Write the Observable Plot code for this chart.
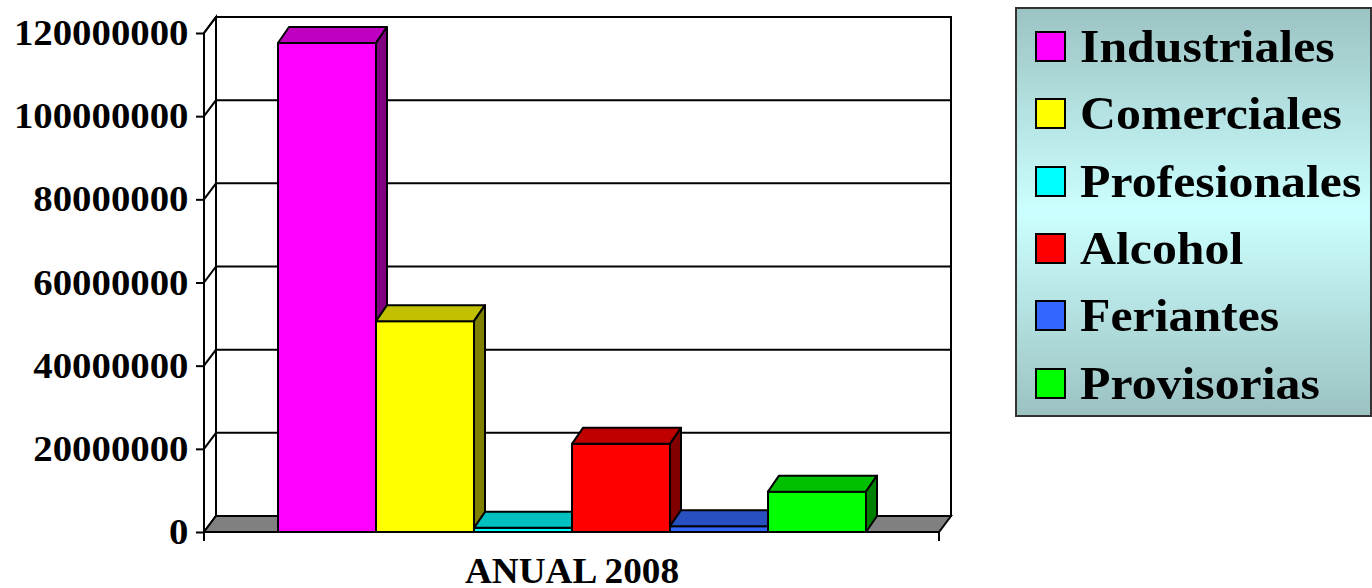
<!DOCTYPE html>
<html>
<head>
<meta charset="utf-8">
<script src="https://cdn.jsdelivr.net/npm/d3@7"></script>
<script src="https://cdn.jsdelivr.net/npm/@observablehq/plot@0.6"></script>
<style>
  body { margin: 0; background: #fff; }
  #wrap { position: relative; width: 1372px; height: 588px; overflow: hidden; }
  #legend {
    position: absolute; left: 1015px; top: 7px; width: 353px; height: 406px;
    border: 2px solid #333;
    background: linear-gradient(to bottom, #9cc3c3 0%, #ccffff 50%, #9cc2c2 100%);
    font-family: "Liberation Serif", "Times New Roman", serif; font-weight: bold;
  }
  .row { position: absolute; left: 18px; height: 31px; display: flex; align-items: center; white-space: nowrap; }
  .sw { width: 27px; height: 27px; border: 2px solid #000; margin-right: 14px; flex: none; }
  .lab { font-size: 47px; line-height: 31px; color: #000; display: inline-block; transform: scaleX(1.06); transform-origin: left center; }
</style>
</head>
<body>
<div id="wrap"></div>
<script>
// ---- data ----
const series = ["Industriales", "Comerciales", "Profesionales", "Alcohol", "Feriantes", "Provisorias"];
const values = [117600000, 50700000, 1000000, 21200000, 1400000, 9700000];
const frontColors = ["#ff00ff", "#ffff00", "#00ffff", "#ff0000", "#3366ff", "#00ff00"];
const topColors   = ["#c000c0", "#c0c000", "#00c0c0", "#c00000", "#2850c0", "#00c000"];
const sideColors  = ["#800080", "#808000", "#008080", "#800000", "#1a3380", "#008000"];
const yTicks = [0, 20000000, 40000000, 60000000, 80000000, 100000000, 120000000];
const category = "ANUAL 2008";

const rows = series.map((s, i) => ({name: s, value: values[i]}));

const WDX = 12, WDY = 16;   // wall depth offset
const BDX = 11, BDY = 16;   // bar depth offset

function wallsMark(index, scales, vals, dims) {
  const {y} = scales;
  const g = d3.create("svg:g");
  const left = dims.marginLeft, right = dims.width - dims.marginRight;
  const y0 = y(0), yTop = y(yTicks[yTicks.length - 1]);
  g.append("rect")
    .attr("x", left + WDX).attr("y", yTop - WDY)
    .attr("width", right - left).attr("height", y0 - yTop)
    .attr("fill", "#fff").attr("stroke", "#000").attr("stroke-width", 2);
  g.append("polygon")
    .attr("points", [[left, y0], [left, yTop], [left + WDX, yTop - WDY], [left + WDX, y0 - WDY]].map(p => p.join(",")).join(" "))
    .attr("fill", "#fff").attr("stroke", "#000").attr("stroke-width", 2);
  for (const t of yTicks) {
    const yy = y(t);
    g.append("line").attr("x1", left).attr("y1", yy).attr("x2", left + WDX).attr("y2", yy - WDY)
      .attr("stroke", "#000").attr("stroke-width", 2);
    g.append("line").attr("x1", left + WDX).attr("y1", yy - WDY).attr("x2", right + WDX).attr("y2", yy - WDY)
      .attr("stroke", "#000").attr("stroke-width", 2);
  }
  g.append("polygon")
    .attr("points", [[left, y0], [right, y0], [right + WDX, y0 - WDY], [left + WDX, y0 - WDY]].map(p => p.join(",")).join(" "))
    .attr("fill", "#808080").attr("stroke", "#000").attr("stroke-width", 2);
  for (const xx of [left, right]) {
    g.append("line").attr("x1", xx).attr("y1", y0).attr("x2", xx).attr("y2", y0 + 9)
      .attr("stroke", "#000").attr("stroke-width", 2);
  }
  return g.node();
}

function barsMark(index, scales) {
  const {x, y} = scales;
  const g = d3.create("svg:g");
  const bw = x.bandwidth();
  const yb = y(0);
  series.forEach((s, i) => {
    const x0 = x(s), x1 = x0 + bw, yv = y(values[i]);
    g.append("rect").attr("x", x0).attr("y", yv).attr("width", bw).attr("height", yb - yv)
      .attr("fill", frontColors[i]).attr("stroke", "#000").attr("stroke-width", 2);
    g.append("polygon")
      .attr("points", [[x0, yv], [x1, yv], [x1 + BDX, yv - BDY], [x0 + BDX, yv - BDY]].map(p => p.join(",")).join(" "))
      .attr("fill", topColors[i]).attr("stroke", "#000").attr("stroke-width", 2).attr("stroke-linejoin", "round");
    g.append("polygon")
      .attr("points", [[x1, yv], [x1, yb], [x1 + BDX, yb - BDY], [x1 + BDX, yv - BDY]].map(p => p.join(",")).join(" "))
      .attr("fill", sideColors[i]).attr("stroke", "#000").attr("stroke-width", 2).attr("stroke-linejoin", "round");
  });
  return g.node();
}

const chart = Plot.plot({
  width: 1372, height: 588,
  marginLeft: 204, marginRight: 433, marginTop: 33, marginBottom: 56,
  x: {type: "band", domain: series, paddingInner: 0, paddingOuter: 0.75, axis: null},
  y: {domain: [0, 120000000], axis: null},
  style: {fontFamily: "'Liberation Serif', 'Times New Roman', serif", fontWeight: "bold", color: "#000", background: "transparent", overflow: "visible"},
  marks: [
    Plot.barY(rows, {x: "name", y: "value", fill: "none", stroke: "none"}),
    wallsMark,
    Plot.axisY(yTicks, {label: null, tickFormat: d => String(d), tickSize: 8, tickPadding: 8, fontSize: 36, fontWeight: "bold", strokeWidth: 2}),
    barsMark,
    Plot.text([category], {frameAnchor: "bottom", dy: 39, lineAnchor: "middle", fontSize: 35, fontWeight: "bold"})
  ]
});
// Times-like horizontal stretch of the text
chart.querySelectorAll("text").forEach(t => {
  const s = t.textContent.trim();
  if (/^\d+$/.test(s)) {
    t.setAttribute("textLength", (s.length * 19.4).toFixed(1));
    t.setAttribute("lengthAdjust", "spacingAndGlyphs");
  } else if (s === category) {
    t.setAttribute("textLength", "214");
    t.setAttribute("lengthAdjust", "spacingAndGlyphs");
  }
});
document.getElementById("wrap").appendChild(chart);

// legend
const legend = document.createElement("div");
legend.id = "legend";
series.forEach((s, i) => {
  const row = document.createElement("div");
  row.className = "row";
  row.style.top = (22 + i * 67.3) + "px";
  const sw = document.createElement("div");
  sw.className = "sw";
  sw.style.background = frontColors[i];
  const lab = document.createElement("span");
  lab.className = "lab";
  lab.textContent = s;
  row.appendChild(sw); row.appendChild(lab);
  legend.appendChild(row);
});
document.getElementById("wrap").appendChild(legend);
</script>
</body>
</html>
